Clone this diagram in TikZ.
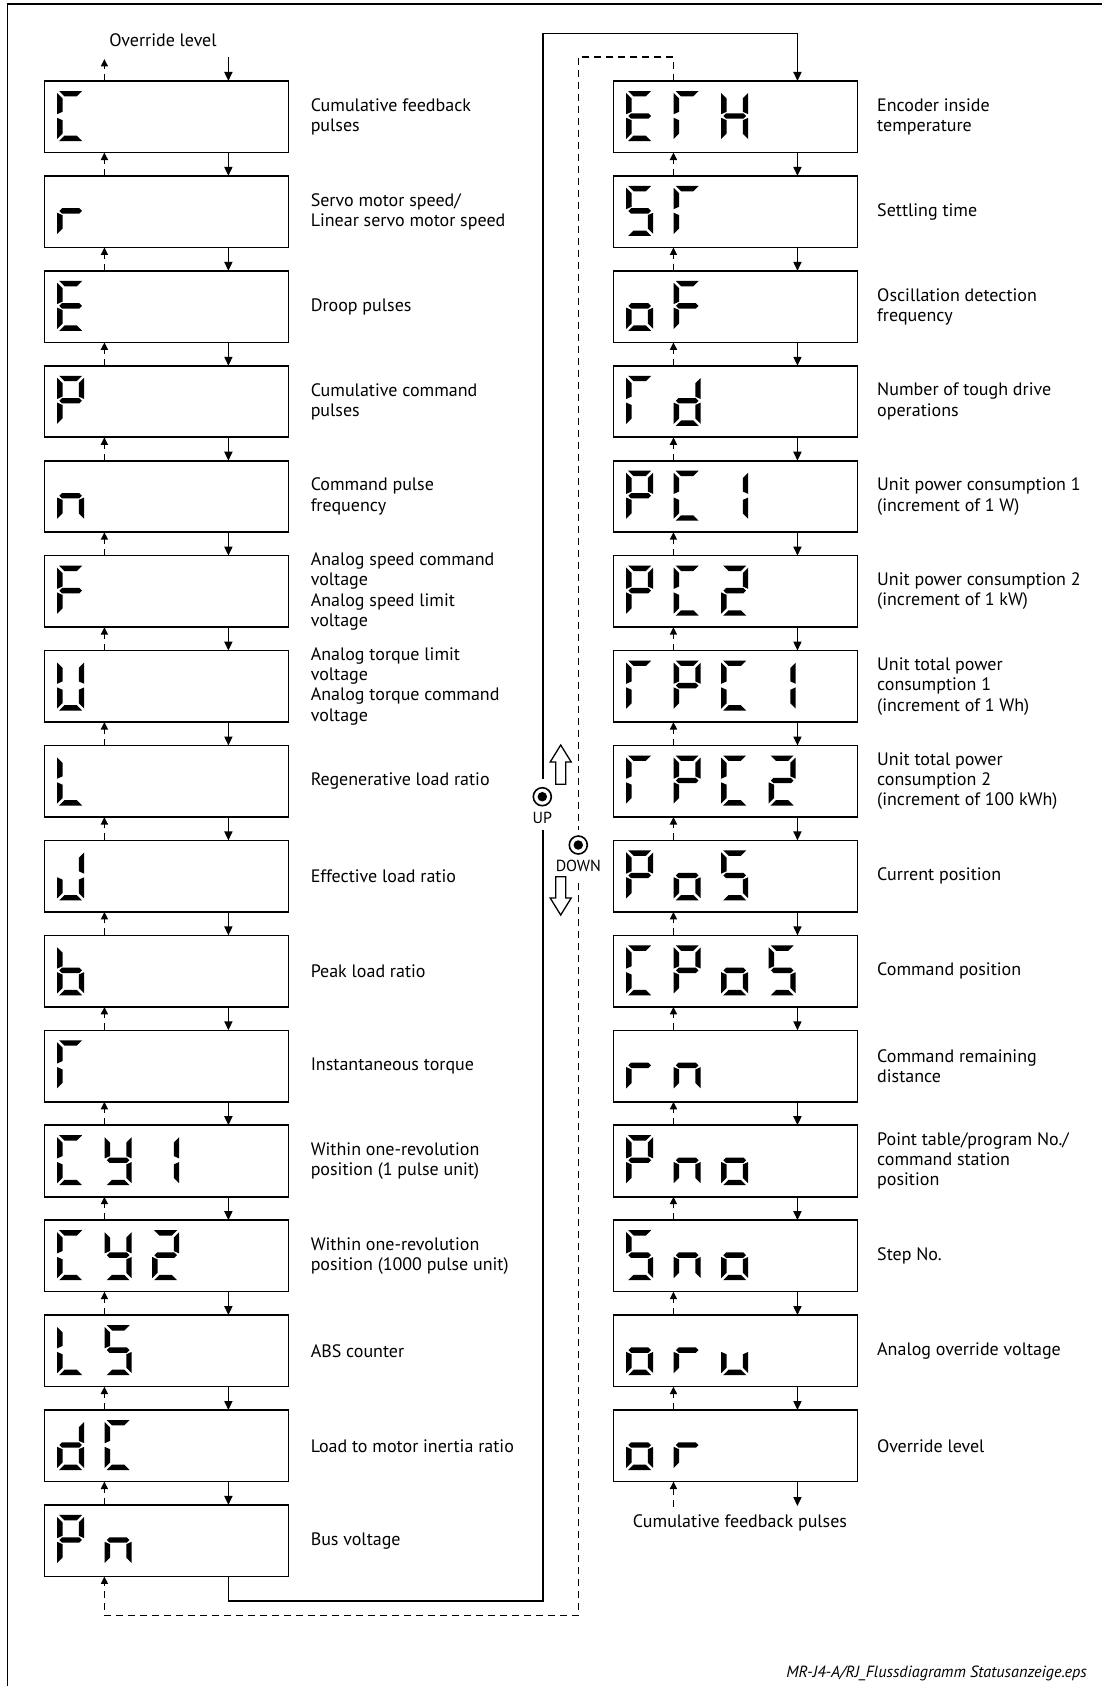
\documentclass[tikz,border=0pt]{standalone}
\usepackage{fontspec}
\setmainfont{PT Sans}
\usetikzlibrary{arrows.meta}
\def\sega{(2,0) -- (25,0) -- (19.6,5.4) -- (7.4,5.4) -- cycle}
\def\segd{(2,50) -- (25,50) -- (19.6,44.6) -- (7.4,44.6) -- cycle}
\def\segf{(0,2) -- (5.4,7.4) -- (5.4,20.8) -- (0,23.2) -- cycle}
\def\segb{(27,2) -- (21.6,7.4) -- (21.6,20.8) -- (27,23.2) -- cycle}
\def\sege{(0,26.8) -- (5.4,29.2) -- (5.4,42.6) -- (0,48) -- cycle}
\def\segc{(27,26.8) -- (21.6,29.2) -- (21.6,42.6) -- (27,48) -- cycle}
\def\segg{(2.2,25) -- (4.9,22.3) -- (22.1,22.3) -- (24.8,25) -- (22.1,27.7) -- (4.9,27.7) -- cycle}
\newcommand\dg[3]{%
  \begin{scope}[shift={([shift={({12.7+47.5*(#2-1)},10)}]#1.north west)}]
    \foreach \sg in {#3}{\expandafter\fill\csname seg\sg\endcsname;}
  \end{scope}}
\begin{document}
\begin{tikzpicture}[x=1pt,y=-1pt,
  font=\fontsize{18}{20.3}\selectfont,
  box/.style={draw,line width=1.6pt,minimum width=243.9pt,minimum height=71.5pt,inner sep=0pt,outer sep=0pt},
  lab/.style={anchor=west,align=left,inner sep=0pt},
  solidline/.style={line width=1.6pt},
  dashline/.style={line width=1.6pt,dash pattern=on 7pt off 5pt},
  dn/.style={solidline,-{Triangle[length=9pt,width=8pt]}},
  upd/.style={dashline,-{Triangle[length=7.5pt,width=7pt]}},
  ring/.style={circle,draw,line width=1.6pt,minimum size=18pt,inner sep=0pt},
  dot/.style={circle,fill,minimum size=9.5pt,inner sep=0pt},
  hollow/.style={line width=1.3pt,line join=miter},
  small/.style={font=\fontsize{16}{18}\selectfont}]
\useasboundingbox (0,0) rectangle (1102,1686);
% frame
\draw[solidline] (7.3,1686) -- (7.3,4.3) -- (1102,4.3);
% boxes
\foreach \i in {1,...,16}
  \node[box] (L\i) at (166.4,{116.75+94.93*(\i-1)}) {};
\foreach \i in {1,...,15}
  \node[box] (R\i) at (735.45,{116.75+94.93*(\i-1)}) {};
% arrows between boxes
\foreach \i in {1,...,15}{
  \pgfmathtruncatemacro\j{\i+1}
  \draw[dn] ([xshift=62pt]L\i.south) -- ([xshift=62pt]L\j.north);
  \draw[upd] ([xshift=-62pt]L\j.north) -- ([xshift=-62pt]L\i.south);
}
\foreach \i in {1,...,14}{
  \pgfmathtruncatemacro\j{\i+1}
  \draw[dn] ([xshift=62pt]R\i.south) -- ([xshift=62pt]R\j.north);
  \draw[upd] ([xshift=-62pt]R\j.north) -- ([xshift=-62pt]R\i.south);
}
% top entry
\node (ovtop) at (163,40) {Override level};
\coordinate (tin) at (228.4,57.3);
\coordinate (tout) at (104.4,59);
\draw[dn] (tin) -- ([xshift=62pt]L1.north);
\draw[upd] ([xshift=-62pt]L1.north) -- (tout);
% bottom exit right
\coordinate (bout) at (797.45,1506);
\coordinate (bin) at (673.45,1506.7);
\draw[dn] ([xshift=62pt]R15.south) -- (bout);
\draw[upd] (bin) -- ([xshift=-62pt]R15.south);
\node (cfp) at (740,1523) {Cumulative feedback pulses};
% solid loop (down)
\coordinate (s1) at (543,1601);
\coordinate (ubrkA) at (543,830);
\coordinate (ubrkB) at (543,779);
\coordinate (s2) at (543,33.7);
\draw[solidline] ([xshift=62pt]L16.south) |- (s1) -- (ubrkA);
\draw[dn] (ubrkB) -- (s2) -| ([xshift=62pt]R1.north);
% dashed loop (up)
\coordinate (d1) at (578.3,57.3);
\coordinate (dbrkA) at (578.3,830);
\coordinate (dbrkB) at (578.3,883);
\coordinate (d2) at (578.3,1615.3);
\draw[dashline] ([xshift=-62pt]R1.north) |- (d1) -- (dbrkA);
\draw[upd] (dbrkB) -- (d2) -| ([xshift=-62pt]L16.south);
% UP / DOWN keys
\node[ring] (upc) at (542.3,796.7) {};
\node[dot] (updot) at (upc.center) {};
\node[small] (uptxt) at (542.3,818) {UP};
\node[ring] (dnc) at (578.3,845) {};
\node[dot] (dndot) at (dnc.center) {};
\node[small] (dntxt) at (578.3,865.5) {DOWN};
\draw[hollow] (560.7,745) -- (571.2,762) -- (565.7,762) -- (565.7,784.3) -- (555.7,784.3) -- (555.7,762) -- (550.2,762) -- cycle;
\draw[hollow] (560.7,915) -- (571.2,898) -- (565.7,898) -- (565.7,876.7) -- (555.7,876.7) -- (555.7,898) -- (550.2,898) -- cycle;
% labels left
\node[lab] (tL1) at ([xshift=22.2pt]L1.east) {Cumulative feedback\\pulses};
\node[lab] (tL2) at ([xshift=22.2pt]L2.east) {Servo motor speed/\\Linear servo motor speed};
\node[lab] (tL3) at ([xshift=22.2pt]L3.east) {Droop pulses};
\node[lab] (tL4) at ([xshift=22.2pt]L4.east) {Cumulative command\\pulses};
\node[lab] (tL5) at ([xshift=22.2pt]L5.east) {Command pulse\\frequency};
\node[lab] (tL6) at ([xshift=22.2pt]L6.east) {Analog speed command\\voltage\\Analog speed limit\\voltage};
\node[lab] (tL7) at ([xshift=22.2pt]L7.east) {Analog torque limit\\voltage\\Analog torque command\\voltage};
\node[lab] (tL8) at ([xshift=22.2pt]L8.east) {Regenerative load ratio};
\node[lab] (tL9) at ([xshift=22.2pt]L9.east) {Effective load ratio};
\node[lab] (tL10) at ([xshift=22.2pt]L10.east) {Peak load ratio};
\node[lab] (tL11) at ([xshift=22.2pt]L11.east) {Instantaneous torque};
\node[lab] (tL12) at ([xshift=22.2pt]L12.east) {Within one-revolution\\position (1 pulse unit)};
\node[lab] (tL13) at ([xshift=22.2pt]L13.east) {Within one-revolution\\position (1000 pulse unit)};
\node[lab] (tL14) at ([xshift=22.2pt]L14.east) {ABS counter};
\node[lab] (tL15) at ([xshift=22.2pt]L15.east) {Load to motor inertia ratio};
\node[lab] (tL16) at ([xshift=22.2pt]L16.east) {Bus voltage};
% labels right
\node[lab] (tR1) at ([xshift=19.6pt]R1.east) {Encoder inside\\temperature};
\node[lab] (tR2) at ([xshift=19.6pt]R2.east) {Settling time};
\node[lab] (tR3) at ([xshift=19.6pt]R3.east) {Oscillation detection\\frequency};
\node[lab] (tR4) at ([xshift=19.6pt]R4.east) {Number of tough drive\\operations};
\node[lab] (tR5) at ([xshift=19.6pt]R5.east) {Unit power consumption 1\\(increment of 1 W)};
\node[lab] (tR6) at ([xshift=19.6pt]R6.east) {Unit power consumption 2\\(increment of 1 kW)};
\node[lab] (tR7) at ([xshift=19.6pt]R7.east) {Unit total power\\consumption 1\\(increment of 1 Wh)};
\node[lab] (tR8) at ([xshift=19.6pt]R8.east) {Unit total power\\consumption 2\\(increment of 100 kWh)};
\node[lab] (tR9) at ([xshift=19.6pt]R9.east) {Current position};
\node[lab] (tR10) at ([xshift=19.6pt]R10.east) {Command position};
\node[lab] (tR11) at ([xshift=19.6pt]R11.east) {Command remaining\\distance};
\node[lab] (tR12) at ([xshift=19.6pt]R12.east) {Point table/program No./\\command station\\position};
\node[lab] (tR13) at ([xshift=19.6pt]R13.east) {Step No.};
\node[lab] (tR14) at ([xshift=19.6pt]R14.east) {Analog override voltage};
\node[lab] (tR15) at ([xshift=19.6pt]R15.east) {Override level};
% caption
\node[anchor=east,inner sep=0pt,font=\fontsize{16.2}{18}\selectfont\itshape] (cap) at (1087,1673) {MR-J4-A/RJ\_Flussdiagramm Statusanzeige.eps};
% seven-segment displays, left column
\dg{L1}{1}{a,f,e,d}
\dg{L2}{1}{g,e}
\dg{L3}{1}{a,f,g,e,d}
\dg{L4}{1}{a,b,f,g,e}
\dg{L5}{1}{g,e,c}
\dg{L6}{1}{a,f,g,e}
\dg{L7}{1}{f,b,e,c,d}
\dg{L8}{1}{f,e,d}
\dg{L9}{1}{b,c,d,e}
\dg{L10}{1}{f,e,d,c,g}
\dg{L11}{1}{a,f,e}
\dg{L12}{1}{a,f,e,d}\dg{L12}{2}{f,b,g,c,d}\dg{L12}{3}{b,c}
\dg{L13}{1}{a,f,e,d}\dg{L13}{2}{f,b,g,c,d}\dg{L13}{3}{a,b,g,e,d}
\dg{L14}{1}{f,e,d}\dg{L14}{2}{a,f,g,c,d}
\dg{L15}{1}{b,c,d,e,g}\dg{L15}{2}{a,f,e,d}
\dg{L16}{1}{a,b,f,g,e}\dg{L16}{2}{g,e,c}
% right column
\dg{R1}{1}{a,f,g,e,d}\dg{R1}{2}{a,f,e}\dg{R1}{3}{f,b,g,e,c}
\dg{R2}{1}{a,f,g,c,d}\dg{R2}{2}{a,f,e}
\dg{R3}{1}{g,e,c,d}\dg{R3}{2}{a,f,g,e}
\dg{R4}{1}{a,f,e}\dg{R4}{2}{b,c,d,e,g}
\dg{R5}{1}{a,b,f,g,e}\dg{R5}{2}{a,f,e,d}\dg{R5}{3}{b,c}
\dg{R6}{1}{a,b,f,g,e}\dg{R6}{2}{a,f,e,d}\dg{R6}{3}{a,b,g,e,d}
\dg{R7}{1}{a,f,e}\dg{R7}{2}{a,b,f,g,e}\dg{R7}{3}{a,f,e,d}\dg{R7}{4}{b,c}
\dg{R8}{1}{a,f,e}\dg{R8}{2}{a,b,f,g,e}\dg{R8}{3}{a,f,e,d}\dg{R8}{4}{a,b,g,e,d}
\dg{R9}{1}{a,b,f,g,e}\dg{R9}{2}{g,e,c,d}\dg{R9}{3}{a,f,g,c,d}
\dg{R10}{1}{a,f,e,d}\dg{R10}{2}{a,b,f,g,e}\dg{R10}{3}{g,e,c,d}\dg{R10}{4}{a,f,g,c,d}
\dg{R11}{1}{g,e}\dg{R11}{2}{g,e,c}
\dg{R12}{1}{a,b,f,g,e}\dg{R12}{2}{g,e,c}\dg{R12}{3}{g,e,c,d}
\dg{R13}{1}{a,f,g,c,d}\dg{R13}{2}{g,e,c}\dg{R13}{3}{g,e,c,d}
\dg{R14}{1}{g,e,c,d}\dg{R14}{2}{g,e}\dg{R14}{3}{e,d,c}
\dg{R15}{1}{g,e,c,d}\dg{R15}{2}{g,e}
\end{tikzpicture}
\end{document}
